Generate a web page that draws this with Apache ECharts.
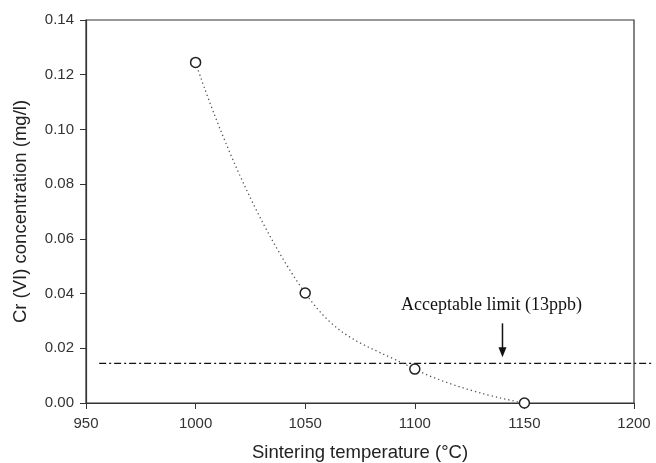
<!DOCTYPE html>
<html><head><meta charset="utf-8">
<script src="https://cdn.jsdelivr.net/npm/echarts@6/dist/echarts.min.js"></script>
<style>html,body{margin:0;padding:0;background:#fff}#c{width:656px;height:463px}</style>
</head><body><div id="c"></div>
<script>
var temperatures = [1000, 1050, 1100, 1150];
var concentrations = [0.1245, 0.0402, 0.0124, 0.0];
var limitValue = 0.0145;
var limitRange = [956, 1208];
var arrowX = 1140;
var xTicks = [950, 1000, 1050, 1100, 1150, 1200];
var yTicks = [0, 0.02, 0.04, 0.06, 0.08, 0.10, 0.12, 0.14];
var annotationText = 'Acceptable limit (13ppb)';

var chart = echarts.init(document.getElementById('c'));
var font = 'Liberation Sans, Arial, Helvetica, sans-serif';
chart.setOption({
  animation: false,
  grid: {left: 86, right: 22, top: 20, bottom: 60, show: true, borderColor: '#333', borderWidth: 1.2,
    backgroundColor: 'transparent', containLabel: false, outerBoundsMode: 'none'},
  xAxis: {
    type: 'value', min: xTicks[0], max: xTicks[xTicks.length-1], interval: 50,
    name: 'Sintering temperature (°C)', nameLocation: 'middle', nameGap: 40,
    nameTextStyle: {fontFamily: font, fontSize: 18.5, color: '#222'},
    axisLine: {lineStyle: {color: '#333', width: 1.2}},
    axisTick: {inside: false, length: 6, lineStyle: {color: '#333'}},
    axisLabel: {fontFamily: font, fontSize: 15, color: '#333', margin: 13,
      formatter: function(v){return String(v);}},
    splitLine: {show: false}
  },
  yAxis: {
    type: 'value', min: yTicks[0], max: yTicks[yTicks.length-1], interval: 0.02,
    name: 'Cr (VI) concentration (mg/l)', nameLocation: 'middle', nameGap: 56,
    nameTextStyle: {fontFamily: font, fontSize: 18.5, color: '#222'},
    axisLine: {show: true, lineStyle: {color: '#333', width: 1.2}},
    axisTick: {show: true, length: 6, lineStyle: {color: '#333'}},
    axisLabel: {fontFamily: font, fontSize: 15, color: '#333', margin: 12,
      formatter: function(v){return v.toFixed(2);}},
    splitLine: {show: false}
  },
  series: [
    {
      type: 'custom', silent: true, clip: false, z: 3,
      data: [[limitRange[0], limitRange[1], limitValue, arrowX]],
      renderItem: function(params, api){
        var p1 = api.coord([api.value(0), api.value(2)]);
        var p2 = api.coord([api.value(1), api.value(2)]);
        var a = api.coord([api.value(3), api.value(2)]);
        return {type: 'group', children: [
          {type: 'line', shape: {x1: p1[0], y1: p1[1], x2: p2[0], y2: p2[1]},
           style: {stroke: '#111', lineWidth: 1.2, lineDash: [7, 3, 2, 3]}},
          {type: 'line', shape: {x1: a[0], y1: a[1]-40, x2: a[0], y2: a[1]-14},
           style: {stroke: '#111', lineWidth: 1.5}},
          {type: 'polygon', shape: {points: [[a[0]-4, a[1]-16], [a[0]+4, a[1]-16], [a[0], a[1]-6]]},
           style: {fill: '#111'}},
          {type: 'text', x: a[0]-11, y: a[1]-58,
           style: {text: annotationText, fill: '#111', font: '18px "Liberation Serif", "Times New Roman", serif', align: 'center', verticalAlign: 'middle'}}
        ]};
      }
    },
    {
      type: 'line', smooth: 0.45, z: 4,
      data: temperatures.map(function(t, i){return [t, concentrations[i]];}),
      symbol: 'circle', symbolSize: 10,
      itemStyle: {color: '#fff', borderColor: '#222', borderWidth: 1.5},
      lineStyle: {color: '#555', width: 1.3, type: [1.3, 3]}
    }
  ]
});
</script></body></html>
